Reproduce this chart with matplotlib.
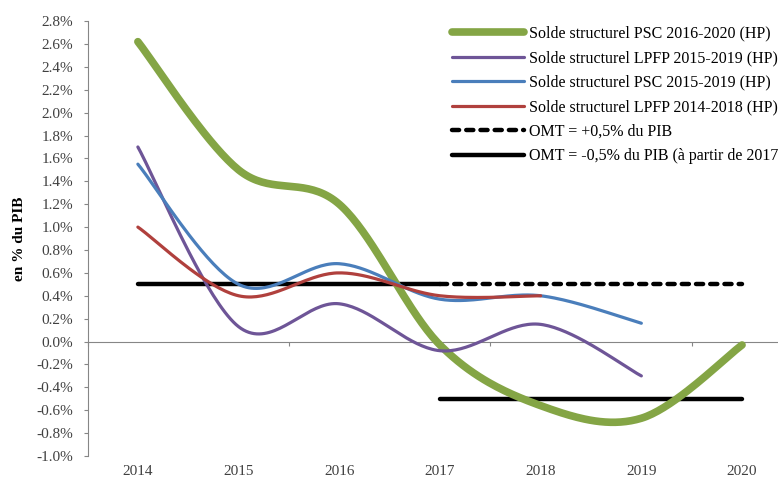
import numpy as np
import matplotlib
matplotlib.use('Agg')
import matplotlib.pyplot as plt
import matplotlib.transforms as mtransforms

plt.rcParams['font.family'] = ['Liberation Serif', 'DejaVu Serif']

years = ['2014', '2015', '2016', '2017', '2018', '2019', '2020']

psc_2016_2020 = [2.62, 1.50, 1.20, -0.03, -0.56, -0.67, -0.03]
lpfp_2015_2019 = [1.70, 0.13, 0.33, -0.08, 0.15, -0.30]
psc_2015_2019 = [1.55, 0.50, 0.68, 0.37, 0.40, 0.16]
lpfp_2014_2018 = [1.00, 0.40, 0.60, 0.40, 0.40]
omt_plus = [None, None, None, 0.5, 0.5, 0.5, 0.5]
omt_solid_high = [0.5, 0.5, 0.5, 0.5]
omt_solid_low = [None, None, None, -0.5, -0.5, -0.5, -0.5]

yticks = [round(-1.0 + 0.2 * i, 1) for i in range(20)]

labels = ['Solde structurel PSC 2016-2020 (HP)',
          'Solde structurel LPFP 2015-2019 (HP)',
          'Solde structurel PSC 2015-2019 (HP)',
          'Solde structurel LPFP 2014-2018 (HP)',
          'OMT = +0,5% du PIB',
          'OMT = -0,5% du PIB (à partir de 2017)']


def smooth(vals, n=40):
    # Excel-like smoothed line (Catmull-Rom through the points)
    pts = [(i, v) for i, v in enumerate(vals) if v is not None]
    x = np.array([p[0] for p in pts], float)
    y = np.array([p[1] for p in pts], float)
    if len(x) < 3:
        return x, y
    xs, ys = [], []
    for i in range(len(x) - 1):
        p0 = np.array([x[max(i - 1, 0)], y[max(i - 1, 0)]])
        p1 = np.array([x[i], y[i]])
        p2 = np.array([x[i + 1], y[i + 1]])
        p3 = np.array([x[min(i + 2, len(x) - 1)], y[min(i + 2, len(x) - 1)]])
        c1 = p1 + (p2 - p0) / 6.0
        c2 = p2 - (p3 - p1) / 6.0
        t = np.linspace(0, 1, n)[:, None]
        b = ((1 - t) ** 3) * p1 + 3 * ((1 - t) ** 2) * t * c1 + 3 * (1 - t) * t ** 2 * c2 + t ** 3 * p2
        xs.extend(b[:, 0])
        ys.extend(b[:, 1])
    return np.array(xs), np.array(ys)


fig = plt.figure(figsize=(7.78, 4.79), dpi=100)
ax = fig.add_axes([0.1125, 0.048, 0.906, 0.908])

green = '#84A545'
purple = '#6E5597'
blue = '#4A7EBB'
red = '#B0403D'

# horizontal OMT lines
xs, ys = smooth(omt_solid_high)
ax.plot(xs, ys, color='black', lw=3.2, solid_capstyle='round', zorder=2)
xs, ys = smooth(omt_plus)
l5, = ax.plot(xs, ys, color='black', lw=3.2, ls=(0, (1.6, 1.6)), dash_capstyle='round', zorder=2)
xs, ys = smooth(omt_solid_low)
l6, = ax.plot(xs, ys, color='black', lw=3.2, solid_capstyle='round', zorder=2)

xs, ys = smooth(psc_2016_2020)
l1, = ax.plot(xs, ys, color=green, lw=5.5, solid_capstyle='round', zorder=3)
xs, ys = smooth(lpfp_2015_2019)
l2, = ax.plot(xs, ys, color=purple, lw=2.3, solid_capstyle='round', zorder=4)
xs, ys = smooth(psc_2015_2019)
l3, = ax.plot(xs, ys, color=blue, lw=2.3, solid_capstyle='round', zorder=4)
xs, ys = smooth(lpfp_2014_2018)
l4, = ax.plot(xs, ys, color=red, lw=2.3, solid_capstyle='round', zorder=5)

ax.set_xlim(-0.5, 6.5)
ax.set_ylim(-1.0, 2.8)
ax.set_yticks(yticks)
ax.set_yticklabels(['%.1f%%' % v for v in yticks])
ax.tick_params(axis='y', direction='out', length=3, color='#868686', labelsize=11,
               labelcolor='#404040', pad=7.5)

for s in ['top', 'right']:
    ax.spines[s].set_visible(False)
ax.spines['left'].set_color('#868686')
ax.spines['bottom'].set_color('#868686')
ax.spines['bottom'].set_position(('data', 0))
ax.set_xticks([-0.5, 1.5, 3.5, 5.5])
ax.set_xticklabels([])
ax.tick_params(axis='x', direction='out', length=3, color='#868686')

trans = mtransforms.blended_transform_factory(ax.transData, ax.transAxes)
for i, yr in enumerate(years):
    ax.text(i, -0.043, yr, transform=trans, ha='center', va='baseline', fontsize=11, color='#404040')

ax.set_ylabel('en % du PIB', fontsize=11, fontweight='bold')
ax.yaxis.set_label_coords(-0.087, 0.5)

leg = fig.legend([l1, l2, l3, l4, l5, l6], labels, loc='upper left',
                 bbox_to_anchor=(0.581, 0.946), frameon=False, fontsize=11.5,
                 handlelength=4.5, handletextpad=0.31, labelspacing=0.53,
                 borderaxespad=0, borderpad=0)

fig.savefig('out.png', dpi=100)
